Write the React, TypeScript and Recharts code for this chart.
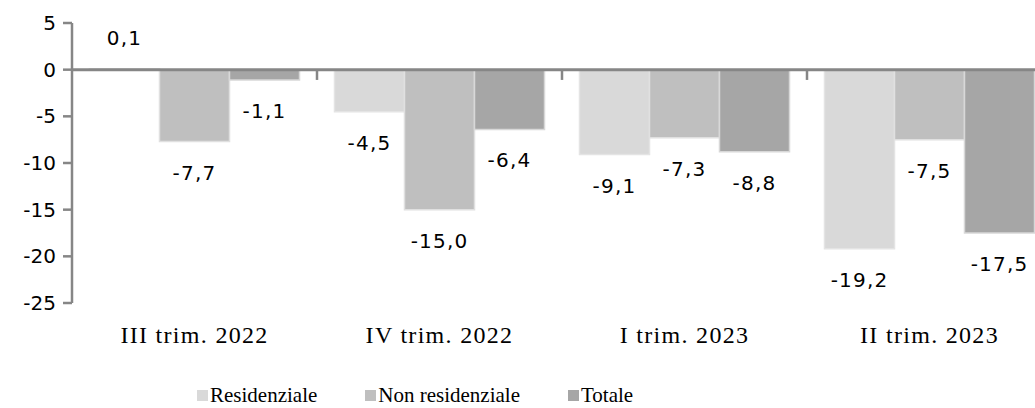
import { BarChart, Bar, XAxis, YAxis, ReferenceLine, Legend, LabelList } from "recharts";

const categories = ["III trim. 2022", "IV trim. 2022", "I trim. 2023", "II trim. 2023"];
const residenziale = [0.1, -4.5, -9.1, -19.2];
const nonResidenziale = [-7.7, -15.0, -7.3, -7.5];
const totale = [-1.1, -6.4, -8.8, -17.5];
const yTicks = [5, 0, -5, -10, -15, -20, -25];

const series = [
  { key: "res", name: "Residenziale", fill: "#d9d9d9", stroke: "#e4e4e4" },
  { key: "nonres", name: "Non residenziale", fill: "#bfbfbf", stroke: "#e0e0e0" },
  { key: "tot", name: "Totale", fill: "#a6a6a6", stroke: "#d8d8d8" },
];

const data = categories.map((c, i) => ({
  cat: c,
  res: residenziale[i],
  nonres: nonResidenziale[i],
  tot: totale[i],
}));

const AXIS = "#868686";
const SANS = "'DejaVu Sans', Verdana, sans-serif";
const SERIF = "'Liberation Serif', 'Times New Roman', serif";
// short category separator marks under the zero line (data units)
const SEP_LEN = -1.1;

const fmt = (v: number) => v.toFixed(1).replace(".", ",");

const ValueLabel = (props: any) => {
  const { x, y, width, height, value } = props;
  const v = Number(value);
  const top = Math.min(y, y + height);
  const bottom = Math.max(y, y + height);
  const ly = v < 0 ? bottom + 31 : top - 31;
  return (
    <text x={x + width / 2} y={ly} textAnchor="middle" dominantBaseline="central"
      fontFamily={SANS} fontSize={20} letterSpacing={1.2} fill="#000">
      {fmt(v)}
    </text>
  );
};

// legend drawn in series order
const LegendContent = () => (
  <div style={{ display: "flex", alignItems: "center", paddingLeft: 197, gap: 48, height: 26 }}>
    {series.map((s) => (
      <div key={s.key} style={{ display: "flex", alignItems: "center" }}>
        <span style={{ width: 11, height: 11, background: s.fill, marginRight: 2, display: "inline-block" }} />
        <span style={{ fontFamily: SERIF, fontSize: 21, color: "#000" }}>{s.name}</span>
      </div>
    ))}
  </div>
);

export default function App() {
  return (
    <div style={{ position: "absolute", left: 0, top: 0, width: 1035, height: 408, overflow: "hidden", background: "#fff" }}>
      <BarChart width={1060} height={408} data={data} barGap={0} barCategoryGap={17.5}
        margin={{ top: 23, right: 8, bottom: 0, left: 0 }}>
        <YAxis domain={[-25, 5]} ticks={yTicks} interval={0} width={72}
          stroke={AXIS} strokeWidth={2.5} tickSize={9} tickMargin={7}
          tick={{ fill: "#000", fontFamily: SANS, fontSize: 20 }} />
        <XAxis dataKey="cat" height={79} axisLine={false} tickLine={false} tickSize={6} tickMargin={17}
          tick={{ fill: "#000", fontFamily: SERIF, fontSize: 24, letterSpacing: 1.3 }} />
        {series.map((s) => (
          <Bar key={s.key} dataKey={s.key} name={s.name} fill={s.fill} stroke={s.stroke} strokeWidth={1.5}
            isAnimationActive={false}>
            <LabelList dataKey={s.key} content={<ValueLabel />} />
          </Bar>
        ))}
        <ReferenceLine y={0} stroke={AXIS} strokeWidth={3} />
        {categories.slice(1).map((c) => (
          <ReferenceLine key={c} position="start" stroke={AXIS} strokeWidth={2.5}
            segment={[{ x: c, y: 0 }, { x: c, y: SEP_LEN }]} />
        ))}
        <Legend verticalAlign="bottom" height={26} content={<LegendContent />}
          wrapperStyle={{ left: 0, width: 1060 }} />
      </BarChart>
    </div>
  );
}
